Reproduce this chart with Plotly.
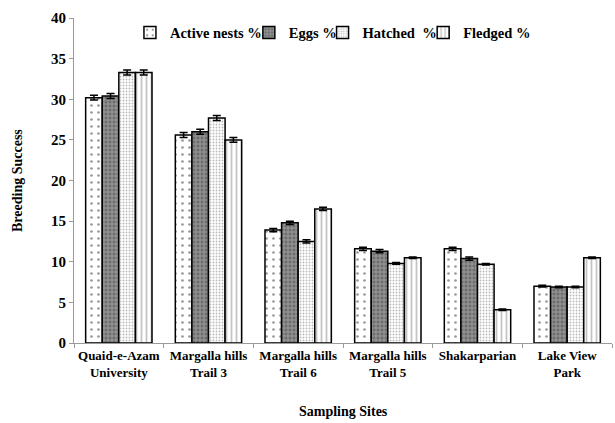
import plotly.graph_objects as go

sites = ["Quaid-e-Azam<br>University", "Margalla hills<br>Trail 3", "Margalla hills<br>Trail 6",
         "Margalla hills<br>Trail 5", "Shakarparian", "Lake View<br>Park"]
active = [30.2, 25.6, 13.9, 11.6, 11.6, 7.0]
eggs = [30.4, 26.0, 14.8, 11.3, 10.4, 6.9]
hatched = [33.3, 27.7, 12.5, 9.8, 9.7, 6.9]
fledged = [33.3, 25.0, 16.5, 10.5, 4.1, 10.5]
err_active = [0.3, 0.3, 0.2, 0.2, 0.2, 0.1]
err_eggs = [0.3, 0.3, 0.2, 0.2, 0.2, 0.1]
err_hatched = [0.3, 0.3, 0.2, 0.1, 0.1, 0.1]
err_fledged = [0.3, 0.3, 0.2, 0.1, 0.1, 0.1]
names = ["Active nests %", "Eggs %", "Hatched  %", "Fledged %"]

FONT = "'Liberation Serif', 'Times New Roman', Times, serif"

styles = [
    dict(bg="white", fg="#333333", shape=".", size=7, solidity=0.12),
    dict(bg="#6e6e6e", fg="#e0e0e0", shape="+", size=4, solidity=0.35),
    dict(bg="white", fg="#777777", shape=".", size=3, solidity=0.3),
    dict(bg="white", fg="#8a8a8a", shape="|", size=5, solidity=0.35),
]
legend_ids = ["legend", "legend2", "legend3", "legend4"]
legend_x = [0.104, 0.325, 0.462, 0.649]

fig = go.Figure()
for name, vals, errs, st, lid in zip(names, [active, eggs, hatched, fledged],
                                     [err_active, err_eggs, err_hatched, err_fledged], styles, legend_ids):
    fig.add_trace(go.Bar(
        x=sites, y=vals, name=name, legend=lid, showlegend=True,
        marker=dict(color=st["bg"], line=dict(color="black", width=1.5),
                    pattern=dict(shape=st["shape"], fgcolor=st["fg"], bgcolor=st["bg"],
                                 size=st["size"], solidity=st["solidity"], fillmode="overlay")),
        error_y=dict(type="data", array=errs, visible=True, color="black", thickness=1.5, width=4),
    ))

bold = dict(family=FONT, size=14, color="black", weight="bold")
legfont = dict(family=FONT, size=14.5, color="black", weight="bold")

layout_legends = {}
for lid, lx in zip(legend_ids, legend_x):
    layout_legends[lid] = dict(orientation="h", x=lx, xanchor="left", y=0.955, yanchor="middle",
                               font=legfont, itemwidth=30, bgcolor="rgba(0,0,0,0)", visible=True)

fig.update_layout(
    width=615, height=423, showlegend=True,
    paper_bgcolor="white", plot_bgcolor="white",
    margin=dict(l=74, r=3, t=18, b=80, autoexpand=False),
    barmode="group", bargap=0.26, bargroupgap=0,
    font=dict(family=FONT, size=13, color="black"),
    xaxis=dict(showline=True, linecolor="#9a9a9a", linewidth=1, ticks="outside",
               tickson="boundaries", ticklen=4, tickcolor="#9a9a9a", showgrid=False, tickangle=0,
               automargin=False, tickfont=dict(family=FONT, size=13, color="black", weight="bold")),
    yaxis=dict(range=[0, 40], dtick=5, showline=True, linecolor="#9a9a9a", linewidth=1,
               ticks="outside", ticklen=4, tickcolor="#9a9a9a", showgrid=False, zeroline=False,
               automargin=False, tickfont=dict(family=FONT, size=15, color="black", weight="bold")),
    annotations=[
        dict(text="Sampling Sites", xref="paper", yref="paper", x=0.5, y=-0.21,
             xanchor="center", yanchor="middle", showarrow=False, font=bold),
        dict(text="Breeding Success", xref="paper", yref="paper", x=-0.105, y=0.5,
             xanchor="center", yanchor="middle", textangle=-90, showarrow=False, font=bold),
    ],
    **layout_legends,
)

fig.write_html("out.html", config={"displayModeBar": False},
               post_script="document.body.style.margin='0';document.body.style.overflow='hidden';")
